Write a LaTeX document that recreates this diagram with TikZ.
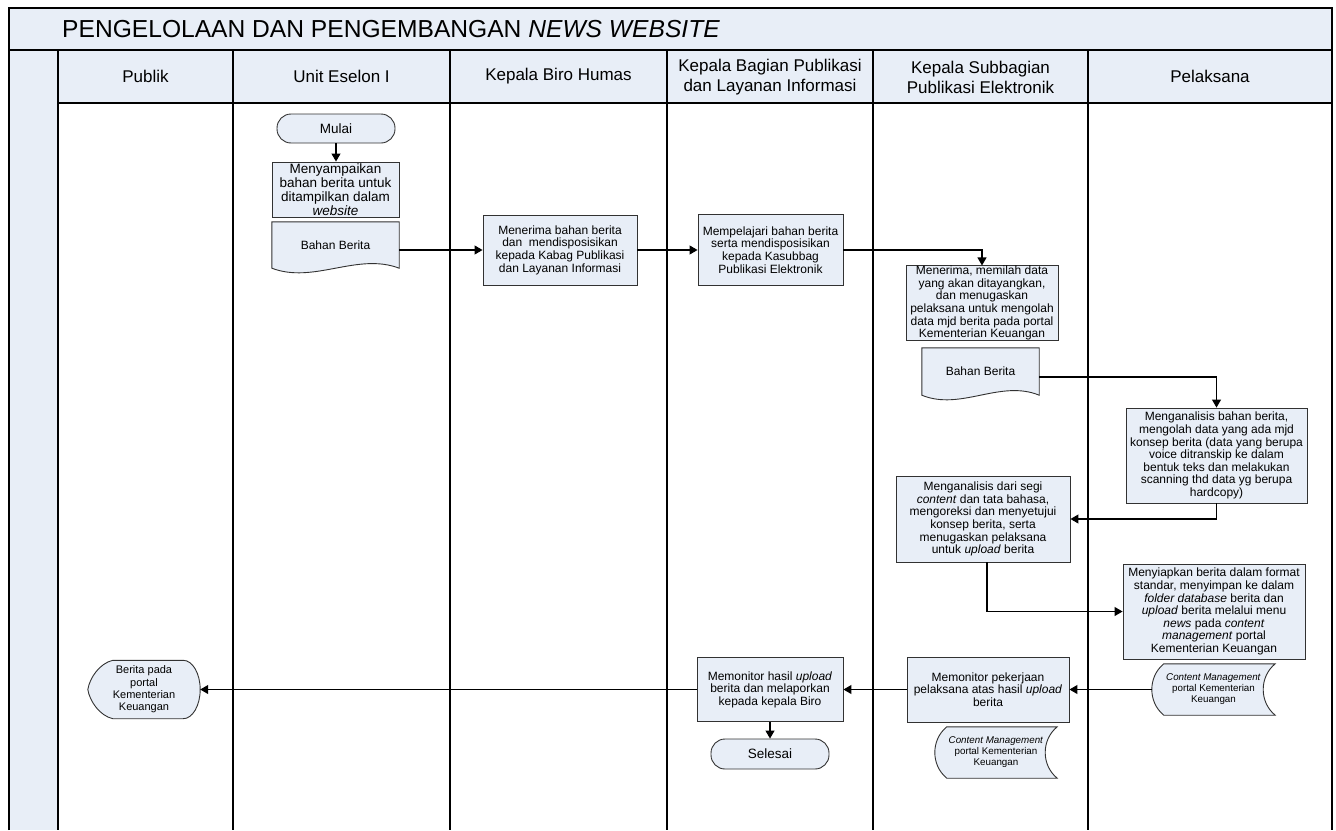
\documentclass[tikz,border=0pt]{standalone}
\usepackage{fontspec}
\setmainfont{Liberation Sans}
\usetikzlibrary{arrows.meta,calc}
\definecolor{boxfill}{RGB}{232,238,247}
\definecolor{boxline}{RGB}{50,50,50}
\pgfdeclarelayer{lanes}
\pgfdeclarelayer{shapes}
\pgfsetlayers{lanes,shapes,main}
\tikzset{
  proc/.style={draw=boxline, line width=0.9pt, fill=boxfill, inner sep=0pt, align=center, font=\fontsize{12}{12.6}\selectfont},
  term/.style={proc, rounded corners=14pt, font=\fontsize{13.5}{14}\selectfont},
  geo/.style={inner sep=0pt, align=center, font=\fontsize{12}{12.6}\selectfont},
  smalltxt/.style={geo, font=\fontsize{9.8}{11}\selectfont},
  conn/.style={line width=1.1pt, -{Triangle[length=8pt,width=9pt]}},
  lane/.style={line width=1.4pt},
  hdr/.style={align=center, font=\fontsize{17}{20}\selectfont, inner sep=0pt},
  shapeline/.style={draw=boxline, line width=0.9pt, fill=boxfill},
}
\begin{document}
\begin{tikzpicture}[x=1pt,y=-1pt]
\useasboundingbox (0,0) rectangle (1336,830);

% ---------- lanes ----------
\begin{pgfonlayer}{lanes}
\fill[boxfill] (9,8) rectangle (1332,103);
\fill[boxfill] (9,103) rectangle (58,830);
\draw[line width=1.2pt] (9,830) -- (9,8) -- (1332,8) -- (1332,830);
\draw[line width=2pt] (9,50) -- (1332,50);
\draw[lane] (58,103) -- (1332,103);
\foreach \x in {58,233,450,667,873,1088} \draw[lane] (\x,50) -- (\x,830);
\end{pgfonlayer}

% ---------- title and headers ----------
\node[anchor=west, inner sep=0pt, font=\fontsize{24.6}{28}\selectfont] (title) at (62,29) {PENGELOLAAN DAN PENGEMBANGAN \textit{NEWS WEBSITE}};
\node[hdr] (h1) at (145.5,76) {Publik};
\node[hdr] (h2) at (341.5,76) {Unit Eselon I};
\node[hdr] (h3) at (558.5,76) {Kepala Biro Humas};
\node[hdr] (h4) at (770,77) {Kepala Bagian Publikasi\\dan Layanan Informasi};
\node[hdr] (h5) at (980.5,77) {Kepala Subbagian\\Publikasi Elektronik};
\node[hdr] (h6) at (1210,76) {Pelaksana};

% ---------- nodes ----------
\node[term, minimum width=118pt, minimum height=29pt] (mulai) at (336,128.5) {Mulai};
\node[proc, minimum width=127pt, minimum height=55pt, font=\fontsize{13.5}{14}\selectfont] (sampai) at (335.5,189.5) {Menyampaikan\\bahan berita untuk\\ditampilkan dalam\\\textit{website}};
\node[geo, minimum width=127pt, minimum height=46pt] (doc1) at (335.5,245) {Bahan Berita};
\node[proc, minimum width=154pt, minimum height=70pt] (menerima) at (560,250) {Menerima bahan berita\\dan\ \ mendisposisikan\\kepada Kabag Publikasi\\dan Layanan Informasi};
\node[proc, minimum width=145pt, minimum height=71pt] (pelajari) at (770.5,250) {Mempelajari bahan berita\\serta mendisposisikan\\kepada Kasubbag\\Publikasi Elektronik};
\node[proc, minimum width=152pt, minimum height=72pt] (memilah) at (982,303) {Menerima, memilah data\\yang akan ditayangkan,\\dan menugaskan\\pelaksana untuk mengolah\\data mjd berita pada portal\\Kementerian Keuangan};
\node[geo, minimum width=117pt, minimum height=47pt] (doc2) at (980.5,371.5) {Bahan Berita};
\node[proc, minimum width=181pt, minimum height=95pt] (anal1) at (1216.5,455.5) {Menganalisis bahan berita,\\mengolah data yang ada mjd\\konsep berita (data yang berupa\\voice ditranskip ke dalam\\bentuk teks dan melakukan\\scanning thd data yg berupa\\hardcopy)};
\node[proc, minimum width=174pt, minimum height=86pt] (anal2) at (983,519) {Menganalisis dari segi\\\textit{content} dan tata bahasa,\\mengoreksi dan menyetujui\\konsep berita, serta\\menugaskan pelaksana\\untuk \textit{upload} berita};
\node[proc, minimum width=182pt, minimum height=95pt] (siap) at (1214,611.5) {Menyiapkan berita dalam format\\standar, menyimpan ke dalam\\\textit{folder database} berita dan\\\textit{upload} berita melalui menu\\\textit{news} pada \textit{content}\\\textit{management} portal\\Kementerian Keuangan};
\node[smalltxt, minimum width=123pt, minimum height=51pt] (store1) at (1213.5,689.5) {\textit{Content Management}\\portal Kementerian\\Keuangan};
\node[proc, minimum width=162pt, minimum height=65pt] (mon1) at (988,689.5) {Memonitor pekerjaan\\pelaksana atas hasil \textit{upload}\\berita};
\node[smalltxt, minimum width=122pt, minimum height=51pt] (store2) at (996,752.5) {\textit{Content Management}\\portal Kementerian\\Keuangan};
\node[proc, minimum width=146pt, minimum height=64pt] (mon2) at (770,689.5) {Memonitor hasil \textit{upload}\\berita dan melaporkan\\kepada kepala Biro};
\node[term, minimum width=118pt, minimum height=30pt] (selesai) at (770,754) {Selesai};
\node[geo, minimum width=112pt, minimum height=58pt, font=\fontsize{11}{12.3}\selectfont] (disp) at (144,689.5) {Berita pada\\portal\\Kementerian\\Keuangan};

% ---------- special shapes ----------
\begin{pgfonlayer}{shapes}
\foreach \d/\t in {doc1/42,doc2/39}{
  \draw[shapeline] (\d.south west) -- (\d.north west) -- (\d.north east) -- (\d.south east)
    .. controls ($(\d.south east)+(-\t,-16)$) and ($(\d.south west)+(\t,16)$) .. (\d.south west) -- cycle;
}
\foreach \s in {store1,store2}{
  \draw[shapeline] ($(\s.north west)+(12,0)$) -- (\s.north east)
    .. controls ($(\s.north east)+(-16,13)$) and ($(\s.south east)+(-16,-13)$) .. (\s.south east)
    -- ($(\s.south west)+(12,0)$)
    .. controls ($(\s.south west)+(-4,-13)$) and ($(\s.north west)+(-4,13)$) .. ($(\s.north west)+(12,0)$) -- cycle;
}
\draw[shapeline] ($(disp.north west)+(25,0)$) -- ($(disp.north east)+(-17,0)$)
  .. controls ($(disp.north east)+(-7.6,0)$) and ($(disp.east)+(0,-16)$) .. (disp.east)
  .. controls ($(disp.east)+(0,16)$) and ($(disp.south east)+(-7.6,0)$) .. ($(disp.south east)+(-17,0)$)
  -- ($(disp.south west)+(25,0)$)
  .. controls ($(disp.south west)+(12,-3)$) and ($(disp.west)+(2,12)$) .. (disp.west)
  .. controls ($(disp.west)+(2,-12)$) and ($(disp.north west)+(12,3)$) .. ($(disp.north west)+(25,0)$) -- cycle;
\end{pgfonlayer}

% ---------- connectors ----------
\draw[conn] (mulai.south) -- (mulai.south |- sampai.north);
\draw[conn] ([yshift=-5pt]doc1.east) -- (menerima.west);
\draw[conn] (menerima.east) -- (pelajari.west);
\draw[conn] (pelajari.east) -| (memilah.north);
\draw[conn] ([yshift=-5.5pt]doc2.east) -| (anal1.north);
\draw[conn] (anal1.south) |- (anal2.east);
\draw[conn] ([xshift=4pt]anal2.south) |- (siap.west);
\draw[conn] (store1.west) -- (mon1.east);
\draw[conn] (mon1.west) -- (mon2.east);
\draw[conn] (mon2.west) -- (disp.east);
\draw[conn] (mon2.south) -- (selesai.north);
\end{tikzpicture}
\end{document}
